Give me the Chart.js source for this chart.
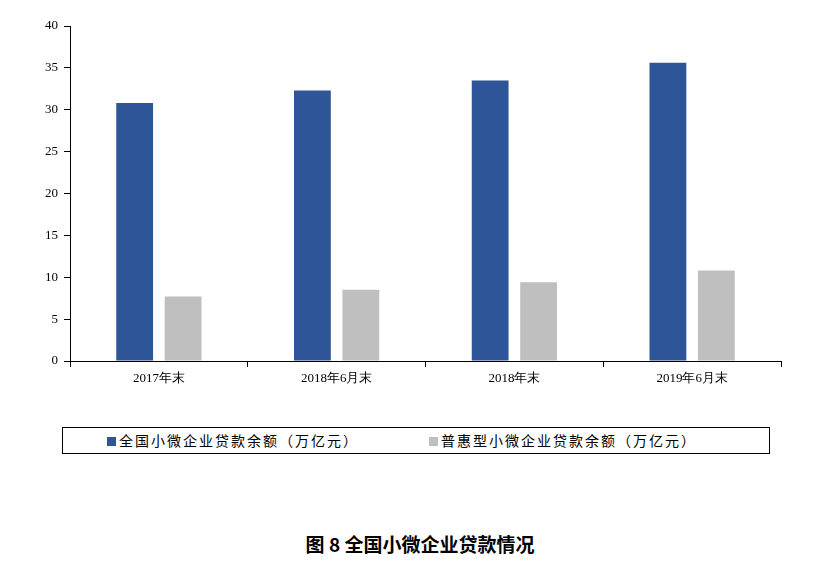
<!DOCTYPE html>
<html><head><meta charset="utf-8">
<script src="https://cdn.jsdelivr.net/npm/chart.js@4/dist/chart.umd.min.js"></script>
<style>
body{margin:0;width:840px;height:569px;background:#fff;position:relative;font-family:"Noto Sans CJK SC";}
#wrap{position:absolute;left:0;top:0;width:840px;height:420px;}
#legend{position:absolute;left:62px;top:427px;width:706px;height:25px;border:1px solid #000;font-size:14px;line-height:25px;letter-spacing:2px;}
.sw{display:inline-block;width:9px;height:9px;margin-right:3px;vertical-align:0px;}
#title{position:absolute;left:0;width:840px;top:530px;text-align:center;font-size:19px;font-weight:bold;}
</style></head><body>
<div id="wrap"><canvas id="c" width="840" height="420"></canvas></div>
<div id="legend"><span style="position:absolute;left:44px"><span class="sw" style="background:#2E5597"></span>全国小微企业贷款余额（万亿元）</span><span style="position:absolute;left:366px"><span class="sw" style="background:#BFBFBF"></span>普惠型小微企业贷款余额（万亿元）</span></div>
<div id="title">图 8  全国小微企业贷款情况</div>
<script>
const categories=["2017年末","2018年6月末","2018年末","2019年6月末"];
const totalLoans=[30.8,32.3,33.5,35.6];
const inclusiveLoans=[7.7,8.5,9.4,10.8];
const yTicks=[0,5,10,15,20,25,30,35,40];
const serif='"Liberation Serif","DejaVu Serif",serif';
new Chart(document.getElementById('c'),{type:'bar',
data:{labels:categories,datasets:[
{label:'全国小微企业贷款余额（万亿元）',data:totalLoans,backgroundColor:'#2E5597',categoryPercentage:0.545,barPercentage:0.76},
{label:'普惠型小微企业贷款余额（万亿元）',data:inclusiveLoans,backgroundColor:'#BFBFBF',categoryPercentage:0.545,barPercentage:0.76}]},
options:{responsive:false,animation:false,layout:{padding:{top:26,right:59,left:0,bottom:0}},
plugins:{legend:{display:false},tooltip:{enabled:false}},
scales:{
x:{grid:{offset:true,drawOnChartArea:false,tickLength:6,color:'#000'},border:{color:'#000'},
ticks:{color:'#000',font:{family:serif,size:13},padding:4},afterFit:s=>{s.height=59;}},
y:{min:0,max:40,grid:{drawOnChartArea:false,tickLength:6,color:'#000'},border:{color:'#000'},
afterBuildTicks:s=>{s.ticks=yTicks.map(v=>({value:v}));},
ticks:{color:'#000',font:{family:serif,size:13},padding:6},afterFit:s=>{s.width=70;}}}}});
</script></body></html>
